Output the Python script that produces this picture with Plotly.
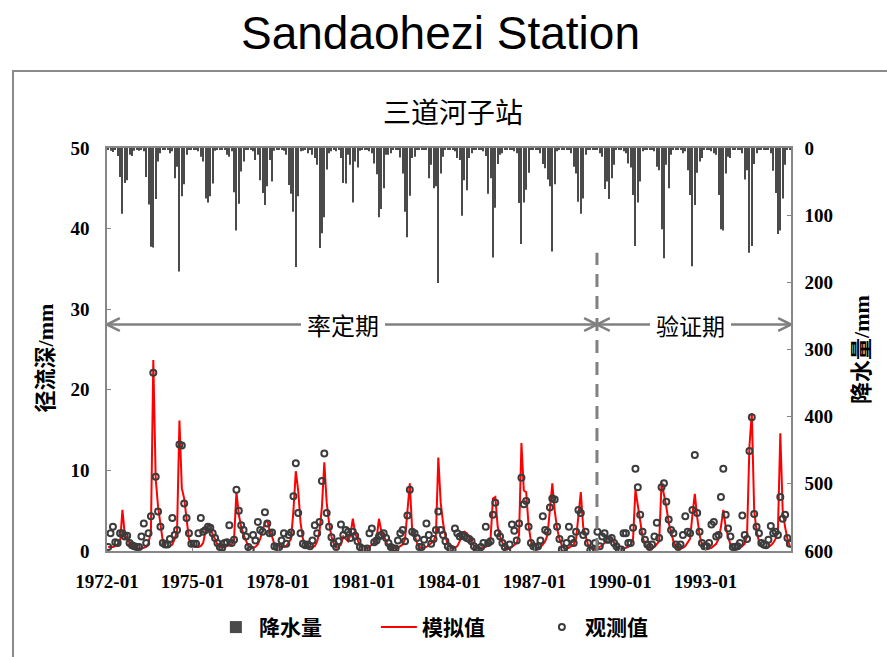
import plotly.graph_objects as go

# ---------------- data (monthly, 1972-01 .. 1995-12) ----------------
precip = [
    3, 4, 6, 3, 12, 43, 98, 52, 48, 10, 12, 4,        # 1972
    3, 4, 2, 5, 43, 84, 147, 148, 76, 20, 8, 3,       # 1973
    2, 3, 8, 5, 45, 28, 184, 72, 54, 10, 3, 2,        # 1974
    2, 2, 5, 13, 20, 75, 81, 72, 53, 4, 3, 2,         # 1975
    2, 3, 10, 13, 5, 66, 123, 83, 35, 20, 3, 2,       # 1976
    3, 5, 18, 10, 48, 67, 85, 57, 18, 50, 4, 2,       # 1977
    2, 3, 4, 10, 55, 68, 95, 177, 72, 5, 4, 2,        # 1978
    8, 3, 10, 15, 25, 149, 127, 103, 32, 8, 5, 2,     # 1979
    5, 3, 15, 52, 53, 10, 25, 81, 20, 29, 4, 2,       # 1980
    3, 3, 5, 8, 23, 39, 103, 91, 60, 10, 10, 8,       # 1981
    3, 2, 3, 14, 38, 95, 133, 71, 15, 13, 3, 2,       # 1982
    2, 3, 3, 45, 25, 60, 57, 201, 38, 13, 3, 2,       # 1983
    2, 3, 5, 15, 18, 101, 48, 63, 15, 8, 3, 2,        # 1984
    3, 3, 5, 12, 68, 45, 163, 89, 24, 10, 8, 3,       # 1985
    2, 3, 3, 5, 8, 82, 143, 81, 62, 37, 3, 2,         # 1986
    2, 3, 8, 24, 30, 47, 57, 154, 54, 5, 3, 2,        # 1987
    2, 3, 3, 8, 28, 38, 80, 98, 75, 10, 3, 2,         # 1988
    2, 3, 3, 8, 13, 61, 50, 76, 45, 25, 3, 2,         # 1989
    3, 5, 8, 23, 29, 70, 146, 81, 50, 5, 3, 2,        # 1990
    2, 3, 5, 28, 33, 121, 164, 25, 60, 10, 3, 2,      # 1991
    2, 3, 8, 5, 33, 70, 176, 85, 37, 20, 15, 3,       # 1992
    2, 3, 5, 8, 10, 70, 121, 123, 38, 13, 15, 3,      # 1993
    2, 3, 3, 8, 47, 33, 156, 146, 24, 8, 3, 2,        # 1994
    2, 3, 3, 8, 34, 67, 128, 123, 75, 25, 3, 2,       # 1995
]

simulated = [
    0.5, 0.5, 0.5, 0.6, 0.8, 1.0, 5.1, 2.0, 1.5, 1.0, 0.6, 0.5,      # 1972
    0.3, 0.3, 0.3, 0.4, 0.5, 1.0, 2.5, 23.7, 9.0, 5.5, 3.0, 1.2,     # 1973
    0.5, 0.5, 0.6, 0.8, 1.5, 2.5, 16.2, 7.8, 6.5, 4.0, 1.5, 0.8,     # 1974
    0.6, 0.5, 0.5, 0.6, 1.0, 2.5, 3.2, 3.0, 2.0, 1.5, 0.8, 0.5,      # 1975
    0.5, 0.5, 0.6, 0.7, 0.8, 1.5, 7.3, 4.5, 3.0, 2.0, 1.2, 0.6,      # 1976
    0.4, 0.4, 0.5, 0.8, 1.5, 2.5, 3.5, 3.8, 2.5, 1.8, 0.8, 0.5,      # 1977
    0.5, 0.5, 0.5, 0.6, 1.0, 1.5, 5.0, 9.9, 7.5, 3.5, 1.5, 0.8,      # 1978
    0.6, 0.5, 0.5, 0.6, 1.2, 2.5, 5.5, 11.0, 6.0, 3.5, 1.8, 0.9,     # 1979
    0.4, 0.5, 0.8, 1.8, 1.5, 1.2, 2.0, 4.0, 2.2, 1.3, 0.6, 0.4,      # 1980
    0.3, 0.3, 0.5, 0.8, 1.0, 1.5, 4.0, 2.5, 2.0, 1.2, 0.6, 0.4,      # 1981
    0.3, 0.3, 0.4, 0.6, 0.8, 1.5, 5.0, 8.4, 2.5, 2.0, 1.0, 0.5,      # 1982
    0.4, 0.4, 0.5, 0.7, 1.0, 1.2, 2.0, 11.6, 6.0, 3.5, 1.8, 0.8,     # 1983
    0.3, 0.3, 0.4, 0.6, 1.2, 2.2, 2.4, 2.2, 1.8, 1.2, 0.6, 0.4,      # 1984
    0.2, 0.3, 0.4, 0.5, 0.8, 1.5, 6.5, 6.7, 3.0, 1.8, 1.0, 0.5,      # 1985
    0.2, 0.3, 0.5, 0.7, 1.0, 2.0, 13.4, 7.5, 7.3, 3.2, 1.2, 0.5,     # 1986
    0.3, 0.4, 0.5, 0.8, 1.2, 2.0, 5.5, 8.4, 5.0, 2.8, 1.5, 0.7,      # 1987
    0.3, 0.3, 0.4, 0.6, 0.8, 1.5, 4.5, 7.3, 3.0, 2.0, 0.8, 0.4,      # 1988
    0.2, 0.3, 0.4, 0.5, 0.7, 1.0, 1.5, 1.8, 1.6, 1.0, 0.5, 0.3,      # 1989
    0.3, 0.3, 0.4, 0.5, 0.8, 1.5, 7.6, 5.5, 3.5, 1.8, 0.8, 0.4,      # 1990
    0.3, 0.3, 0.5, 0.8, 1.2, 8.5, 7.0, 5.5, 3.5, 2.2, 1.2, 0.6,      # 1991
    0.3, 0.3, 0.4, 0.6, 1.0, 1.5, 4.5, 7.1, 4.2, 2.0, 0.8, 0.4,      # 1992
    0.3, 0.3, 0.4, 0.6, 0.9, 1.5, 3.0, 5.1, 3.0, 1.8, 0.8, 0.4,      # 1993
    0.3, 0.3, 0.4, 0.6, 0.9, 2.0, 13.0, 17.1, 5.0, 2.5, 1.2, 0.6,    # 1994
    0.4, 0.4, 0.5, 0.7, 1.0, 1.5, 2.5, 14.6, 5.0, 3.0, 1.5, 0.6,     # 1995
]

observed = [
    0.5, 2.2, 3.0, 1.1, 1.0, 2.2, 2.2, 1.8, 1.9, 1.0, 0.7, 0.6,      # 1972
    0.5, 0.5, 1.8, 3.4, 1.0, 2.2, 4.3, 22.1, 9.2, 4.9, 3.0, 1.0,     # 1973
    0.8, 0.8, 1.5, 4.1, 2.0, 2.6, 13.2, 13.1, 5.9, 4.1, 2.2, 0.9,    # 1974
    0.9, 0.9, 2.2, 4.1, 2.4, 2.6, 3.0, 2.9, 2.2, 1.6, 1.0, 0.5,      # 1975
    0.4, 1.0, 1.1, 3.2, 1.0, 1.4, 7.6, 5.0, 3.2, 2.6, 1.8, 0.5,      # 1976
    0.2, 2.0, 1.3, 3.6, 2.6, 2.4, 4.8, 3.4, 2.2, 2.3, 0.6, 0.5,      # 1977
    0.5, 1.3, 2.2, 0.9, 2.0, 2.3, 6.8, 10.9, 4.7, 2.2, 0.9, 0.7,     # 1978
    0.8, 0.6, 1.3, 3.2, 2.2, 3.6, 8.7, 12.1, 4.7, 3.0, 1.7, 0.9,     # 1979
    0.5, 1.2, 3.3, 2.0, 2.6, 2.4, 1.6, 2.4, 1.9, 1.2, 0.5, 0.3,      # 1980
    0.2, 0.3, 2.2, 2.8, 1.1, 1.3, 1.8, 2.0, 2.2, 1.6, 1.0, 0.5,      # 1981
    0.3, 0.3, 1.3, 2.2, 2.6, 1.2, 4.4, 7.6, 2.4, 2.2, 1.6, 0.5,      # 1982
    0.5, 1.4, 3.4, 2.0, 0.9, 1.5, 2.6, 4.9, 2.6, 2.0, 1.2, 0.6,      # 1983
    0.3, 0.2, 2.8, 2.2, 1.8, 2.0, 1.8, 1.6, 1.5, 1.2, 0.6, 0.3,      # 1984
    0.1, 0.5, 1.0, 3.0, 1.0, 1.2, 4.5, 6.0, 2.2, 1.8, 1.0, 0.5,      # 1985
    0.1, 0.8, 3.3, 2.5, 1.3, 3.4, 9.1, 5.8, 6.2, 3.0, 1.0, 0.6,      # 1986
    0.5, 0.6, 1.3, 4.3, 2.6, 2.4, 5.4, 6.5, 6.4, 3.0, 1.5, 0.2,      # 1987
    0.3, 1.0, 3.0, 1.5, 1.0, 2.4, 5.1, 4.7, 2.0, 2.4, 1.0, 0.1,      # 1988
    0.2, 1.0, 2.4, 0.6, 1.8, 2.2, 1.4, 1.4, 1.6, 1.0, 0.6, 0.2,      # 1989
    0.2, 2.2, 2.2, 1.0, 1.0, 2.9, 10.2, 7.9, 4.5, 2.4, 1.4, 0.8,     # 1990
    0.5, 0.8, 1.8, 3.5, 1.6, 7.9, 8.4, 6.1, 3.9, 2.6, 2.2, 0.8,      # 1991
    0.5, 0.8, 2.0, 4.3, 2.4, 2.2, 5.1, 11.9, 4.7, 2.4, 1.0, 0.6,     # 1992
    0.6, 1.0, 3.3, 3.6, 1.8, 2.0, 6.7, 10.2, 4.5, 2.8, 1.8, 0.5,     # 1993
    0.5, 0.6, 1.0, 4.4, 2.0, 1.5, 12.4, 16.6, 4.6, 3.0, 2.2, 1.0,    # 1994
    0.8, 0.7, 1.4, 3.1, 2.2, 2.4, 2.0, 6.7, 4.0, 4.5, 1.6, 0.9,      # 1995
]

tick_labels = ["1972-01", "1975-01", "1978-01", "1981-01",
               "1984-01", "1987-01", "1990-01", "1993-01"]
tick_step = 36           # months between labels
split_month = 206.3      # calibration / validation boundary (month index)

months = [i + 0.5 for i in range(len(precip))]
n_months = len(precip)

# ---------------- styling ----------------
GRAY = "#878787"
SERIF = "Liberation Serif, Noto Sans CJK SC"
CJK = "Noto Sans CJK SC"

fig = go.Figure()

fig.add_trace(go.Bar(
    x=months, y=precip, name="降水量", yaxis="y2",
    marker=dict(color="#4a4a4a", line=dict(width=0)),
))
fig.add_trace(go.Scatter(
    x=months, y=simulated, name="模拟值", mode="lines",
    line=dict(color="#ff0000", width=2),
))
fig.add_trace(go.Scatter(
    x=months, y=observed, name="观测值", mode="markers",
    marker=dict(symbol="circle-open", size=6, color="#3c3c3c",
                line=dict(width=2, color="#3c3c3c")),
))

fig.update_layout(
    width=887, height=657,
    margin=dict(l=107, r=96, t=148, b=106),
    paper_bgcolor="white", plot_bgcolor="white",
    bargap=0.58,
    showlegend=True,
    legend=dict(orientation="h", xref="container", yref="container",
                x=0.24, xanchor="left", y=0.045, yanchor="middle",
                font=dict(family=CJK, size=21, color="black", weight="bold"),
                itemwidth=36, entrywidth=112, tracegroupgap=0),
    xaxis=dict(
        range=[0, n_months],
        tickmode="array",
        tickvals=[i * tick_step for i in range(len(tick_labels))],
        ticktext=tick_labels,
        ticks="inside", ticklen=4, tickcolor=GRAY,
        showline=True, linecolor=GRAY, linewidth=1.5, mirror=True,
        showgrid=False, zeroline=False, automargin=False,
        tickfont=dict(family=SERIF, size=19, color="black", weight="bold"),
        ticklabelstandoff=12,
    ),
    yaxis=dict(
        range=[0, 50], dtick=10,
        ticks="inside", ticklen=4, tickcolor=GRAY,
        showline=True, linecolor=GRAY, linewidth=1.5,
        showgrid=False, zeroline=False, automargin=False,
        tickfont=dict(family=SERIF, size=19, color="black", weight="bold"),
        ticklabelstandoff=12,
    ),
    yaxis2=dict(
        overlaying="y", side="right",
        range=[600, 0], dtick=100,
        ticks="inside", ticklen=4, tickcolor=GRAY,
        showline=True, linecolor=GRAY, linewidth=1.5,
        showgrid=False, zeroline=False, automargin=False,
        tickfont=dict(family=SERIF, size=19, color="black", weight="bold"),
        ticklabelstandoff=8,
    ),
)

# ---------------- decorations ----------------
shapes = []
# outer frame (only left/top edges visible in the window)
shapes.append(dict(type="rect", xref="paper", yref="paper",
                   x0=-0.1374, x1=1.25, y0=-0.4, y1=1.191,
                   line=dict(color="#8a8a8a", width=2), layer="below"))
# dashed split line
shapes.append(dict(type="line", xref="x", yref="y",
                   x0=split_month, x1=split_month, y0=0, y1=37,
                   line=dict(color="#808080", width=3, dash="13px,9px")))

arrow_y = 28.1
dx, dy = 5.4, 0.78
arrow_line = dict(color="#808080", width=2.5)
for x0, x1 in [(0, split_month), (split_month, n_months)]:
    shapes.append(dict(type="line", xref="x", yref="y",
                       x0=x0, x1=x1, y0=arrow_y, y1=arrow_y, line=arrow_line))
    shapes.append(dict(type="path", xref="x", yref="y",
                       path=f"M {x0+dx},{arrow_y+dy} L {x0},{arrow_y} L {x0+dx},{arrow_y-dy}",
                       line=arrow_line))
    shapes.append(dict(type="path", xref="x", yref="y",
                       path=f"M {x1-dx},{arrow_y+dy} L {x1},{arrow_y} L {x1-dx},{arrow_y-dy}",
                       line=arrow_line))
fig.update_layout(shapes=shapes)

annotations = [
    dict(text="Sandaohezi Station", xref="paper", yref="paper",
         x=0.487, y=1.285, xanchor="center", yanchor="middle", showarrow=False,
         font=dict(family="Liberation Sans, Arial", size=46, color="black")),
    dict(text="三道河子站", xref="paper", yref="paper",
         x=0.506, y=1.092, xanchor="center", yanchor="middle", showarrow=False,
         font=dict(family=CJK, size=28, color="black")),
    dict(text="径流深/mm", xref="paper", yref="paper", textangle=-90,
         x=-0.0906, y=0.478, xanchor="center", yanchor="middle", showarrow=False,
         font=dict(family=SERIF, size=22, color="black", weight="bold")),
    dict(text="降水量/mm", xref="paper", yref="paper", textangle=-90,
         x=1.103, y=0.5, xanchor="center", yanchor="middle", showarrow=False,
         font=dict(family=SERIF, size=22, color="black", weight="bold")),
    dict(text="率定期", xref="x", yref="y", x=99.4, y=arrow_y,
         xanchor="center", yanchor="middle", showarrow=False,
         bgcolor="white", borderpad=6, borderwidth=0,
         font=dict(family=CJK, size=24, color="black")),
    dict(text="验证期", xref="x", yref="y", x=245.5, y=arrow_y,
         xanchor="center", yanchor="middle", showarrow=False,
         bgcolor="white", borderpad=6, borderwidth=0,
         font=dict(family=CJK, size=23, color="black")),
]
fig.update_layout(annotations=annotations)

fig.write_html("out.html")
